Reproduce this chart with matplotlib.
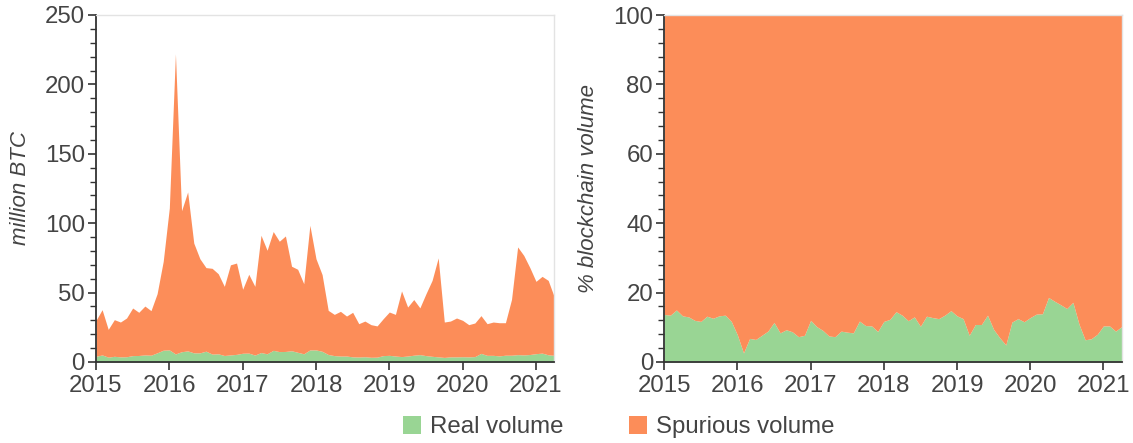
import numpy as np
import matplotlib
matplotlib.use("Agg")
import matplotlib.pyplot as plt
from matplotlib.patches import Patch
from matplotlib.ticker import MultipleLocator

plt.rcParams['font.family'] = ['Liberation Sans', 'DejaVu Sans']

# monthly, Jan 2015 .. Apr 2021
start_year = 2015
total_btc = [30, 37.7, 23.5, 30.5, 28.8, 31.7, 38.9, 35.8, 40.3, 37, 49.2, 72.5,
             111, 222, 109, 122.5, 85.7, 74.4, 68, 67.5, 63.6, 54.5, 70, 71.3,
             52.4, 63.2, 54.5, 91.3, 80.5, 94, 87, 90.8, 69, 66.8, 56.4, 98.5,
             74.4, 63, 37.2, 34.3, 36.5, 33.1, 35.8, 27.6, 29.5, 26.9, 26, 31.2,
             36, 34.3, 51.2, 39.6, 45, 39, 49.2, 58.8, 75, 28.8, 29.5, 31.7,
             30, 26.9, 28.1, 33.4, 27.6, 28.8, 28.3, 28.3, 45.1, 82.9, 76.8, 68,
             58.1, 61.7, 58.8, 46.8]
real_btc = [4.1, 5.1, 3.5, 4.1, 3.7, 3.8, 4.6, 4.7, 5.1, 4.9, 6.6, 8.5,
            8.7, 5.8, 7.4, 8.0, 6.6, 6.6, 7.8, 5.7, 5.9, 4.7, 5.1, 5.5,
            6.3, 6.4, 5.0, 6.8, 5.9, 8.4, 7.5, 7.6, 8.1, 7.0, 5.9, 8.7,
            8.7, 7.7, 5.4, 4.6, 4.3, 4.3, 3.7, 3.6, 3.8, 3.4, 3.5, 4.6,
            4.8, 4.3, 3.9, 4.3, 4.9, 5.3, 4.6, 4.1, 3.7, 3.3, 3.7, 3.7,
            3.8, 3.7, 3.9, 6.2, 4.8, 4.8, 4.4, 4.9, 4.9, 5.3, 5.1, 5.4,
            6.0, 6.4, 5.2, 4.8]
real_pct = [13.7, 13.5, 15, 13.3, 13, 12, 11.7, 13.2, 12.6, 13.3, 13.5, 11.7,
            7.8, 2.6, 6.8, 6.5, 7.7, 8.9, 11.4, 8.4, 9.3, 8.7, 7.3, 7.7,
            12, 10.2, 9.1, 7.5, 7.3, 8.9, 8.6, 8.4, 11.8, 10.5, 10.4, 8.8,
            11.7, 12.3, 14.5, 13.5, 11.9, 13, 10.3, 13.2, 12.8, 12.5, 13.5, 14.8,
            13.3, 12.5, 7.7, 10.8, 10.8, 13.5, 9.4, 7, 4.9, 11.5, 12.5, 11.6,
            12.8, 13.8, 13.9, 18.6, 17.5, 16.5, 15.4, 17.2, 10.9, 6.4, 6.7, 8,
            10.4, 10.4, 8.9, 10.2]
years = [2015, 2016, 2017, 2018, 2019, 2020, 2021]

GREEN = '#99d594'
ORANGE = '#fc8d59'
TXT = '#444444'
SPINE = '#333333'

x = start_year + np.arange(len(total_btc)) / 12.0
total_btc = np.array(total_btc)
real_btc = np.array(real_btc)
real_pct = np.array(real_pct)

W, H = 1133, 443
fig = plt.figure(figsize=(W / 100, H / 100), dpi=100)
ax1 = fig.add_axes([96 / W, 1 - 362 / H, 458.3 / W, 347 / H])
ax2 = fig.add_axes([664.2 / W, 1 - 362 / H, 457.5 / W, 347 / H])


def style(ax):
    ax.set_xlim(x[0], x[-1])
    ax.set_xticks(years)
    ax.set_xticklabels([str(y) for y in years])
    for s in ['left', 'bottom']:
        ax.spines[s].set_color(SPINE)
        ax.spines[s].set_linewidth(1.3)
    for s in ['top', 'right']:
        ax.spines[s].set_color('#e3e3e3')
        ax.spines[s].set_linewidth(1.0)
    ax.tick_params(axis='both', which='major', labelsize=17.3, colors=SPINE,
                   labelcolor=TXT, length=6, width=1.2, pad=2)
    ax.tick_params(axis='x', which='major', pad=3)
    ax.tick_params(axis='y', which='minor', length=4, width=1.0, colors=SPINE)
    ax.tick_params(axis='x', which='minor', length=0)


# left: stacked volumes in million BTC
ax1.fill_between(x, 0, real_btc, color=GREEN, lw=0)
ax1.fill_between(x, real_btc, total_btc, color=ORANGE, lw=0)
ax1.set_ylim(0, 250)
ax1.yaxis.set_major_locator(MultipleLocator(50))
ax1.yaxis.set_minor_locator(MultipleLocator(10))
style(ax1)
ax1.set_ylabel('million BTC', fontsize=16, style='italic', color=TXT, labelpad=10)

# right: share of blockchain volume
ax2.fill_between(x, 0, real_pct, color=GREEN, lw=0)
ax2.fill_between(x, real_pct, 100, color=ORANGE, lw=0)
ax2.set_ylim(0, 100)
ax2.yaxis.set_major_locator(MultipleLocator(20))
ax2.yaxis.set_minor_locator(MultipleLocator(4))
style(ax2)
ax2.set_ylabel('% blockchain volume', fontsize=16, style='italic', color=TXT, labelpad=10)

handles = [Patch(facecolor=GREEN, edgecolor='none', label='Real volume'),
           Patch(facecolor=ORANGE, edgecolor='none', label='Spurious volume')]
leg = fig.legend(handles=handles, loc='center', bbox_to_anchor=(0.546, 0.036),
                 ncol=2, frameon=False, fontsize=17.3, handlelength=0.75,
                 handleheight=0.75, handletextpad=0.4, columnspacing=2.7)
for t in leg.get_texts():
    t.set_color(TXT)

fig.savefig('out.png', dpi=100)
